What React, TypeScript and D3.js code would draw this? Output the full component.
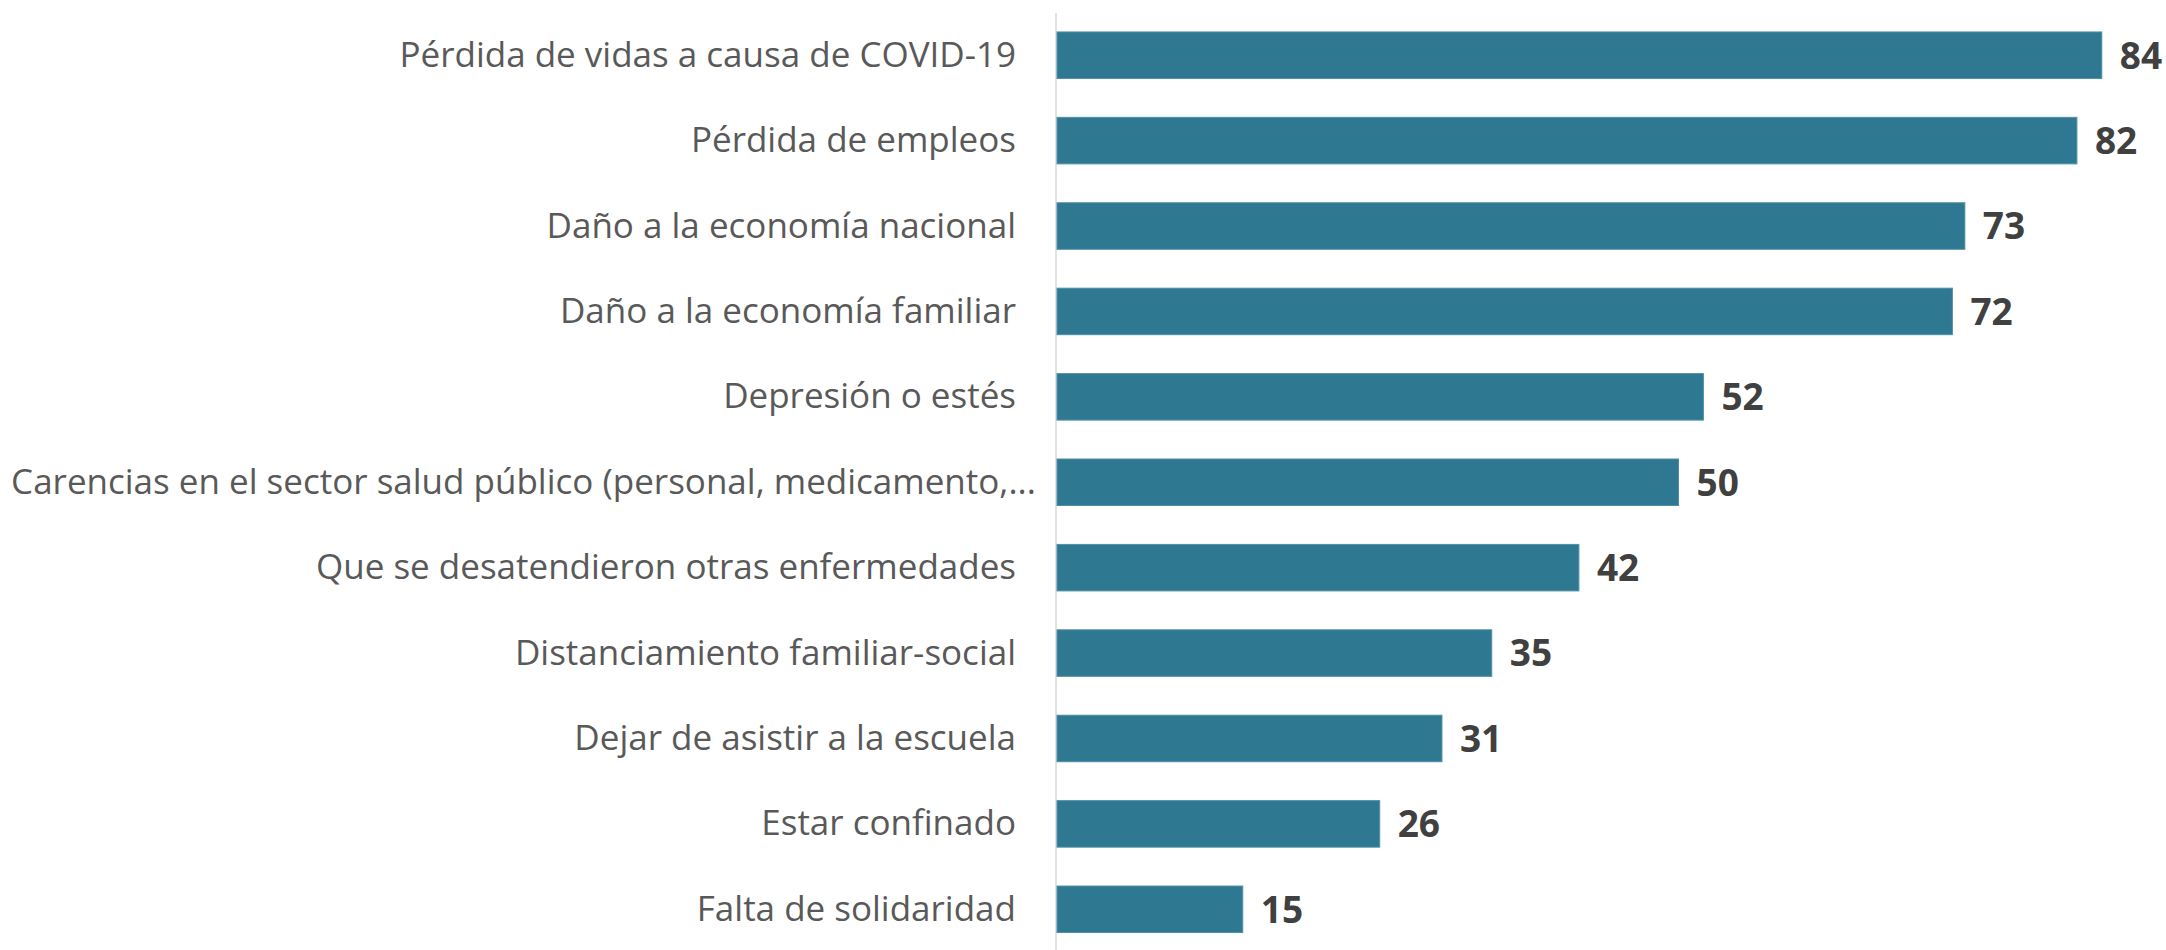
import React from "react";
import * as d3 from "d3";

const categories: string[] = [
  "Pérdida de vidas a causa de COVID-19",
  "Pérdida de empleos",
  "Daño a la economía nacional",
  "Daño a la economía familiar",
  "Depresión o estés",
  "Carencias en el sector salud público (personal, medicamento,...",
  "Que se desatendieron otras enfermedades",
  "Distanciamiento familiar-social",
  "Dejar de asistir a la escuela",
  "Estar confinado",
  "Falta de solidaridad",
];
const values: number[] = [84, 82, 73, 72, 52, 50, 42, 35, 31, 26, 15];

const W = 2166;
const H = 950;
const X0 = 1056;

export default function App() {
  const x = d3.scaleLinear().domain([0, 100]).range([X0, X0 + 1245]);
  const y = d3
    .scaleBand<string>()
    .domain(categories)
    .range([12.5, 952])
    .paddingInner(0.4555)
    .paddingOuter(0.4555 / 2);
  const bw = y.bandwidth();

  return (
    <svg
      width={W}
      height={H}
      style={{ position: "absolute", left: 0, top: 0, background: "#fff" }}
    >
      <line x1={X0} x2={X0} y1={13} y2={H} stroke="#d9d9d9" strokeWidth={1.5} />
      {categories.map((c, i) => {
        const yy = y(c)!;
        const cy = yy + bw / 2;
        const truncated = c.endsWith("...");
        return (
          <g key={c}>
            <rect
              x={x(0) + 1}
              y={yy}
              width={x(values[i]) - x(0) - 1}
              height={bw}
              fill="#2E7891"
              stroke="#4f8fa6"
              strokeWidth={1}
            />
            <text
              x={truncated ? 1036 : 1016}
              y={cy}
              dy="0.33em"
              textAnchor="end"
              fontFamily="'Open Sans', sans-serif"
              fontSize={35}
              fill="#595959"
            >
              {c}
            </text>
            <text
              x={x(values[i]) + 18}
              y={cy}
              dy="0.36em"
              textAnchor="start"
              fontFamily="'Open Sans', sans-serif"
              fontWeight="bold"
              fontSize={37}
              fill="#404040"
            >
              {values[i]}
            </text>
          </g>
        );
      })}
    </svg>
  );
}
